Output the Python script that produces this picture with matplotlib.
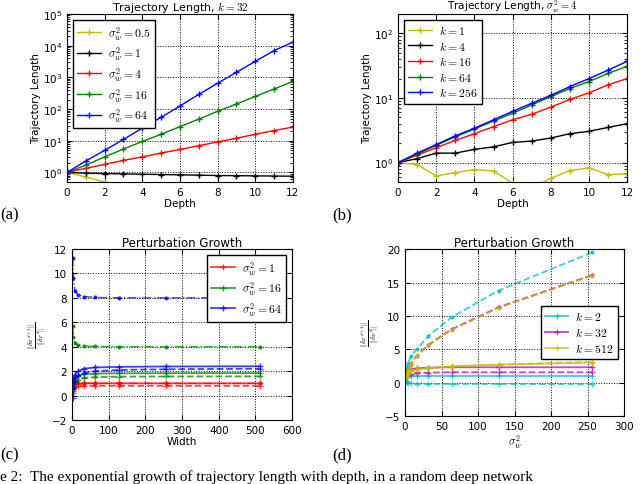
import numpy as np
import matplotlib
matplotlib.use('Agg')
import matplotlib.pyplot as plt

plt.rcParams['mathtext.fontset'] = 'cm'
plt.rcParams['font.family'] = 'DejaVu Sans'
plt.rcParams['xtick.direction'] = 'in'
plt.rcParams['ytick.direction'] = 'in'
plt.rcParams['xtick.top'] = True
plt.rcParams['ytick.right'] = True
plt.rcParams['xtick.labelsize'] = 7.5
plt.rcParams['ytick.labelsize'] = 7.5

# (a) trajectory length, k = 32
depth = list(range(13))
sig_labels_a = [r'$\sigma_w^2=0.5$', r'$\sigma_w^2=1$', r'$\sigma_w^2=4$', r'$\sigma_w^2=16$', r'$\sigma_w^2=64$']
traj_a = [
    [1, 0.72, 0.5, 0.36, 0.26, 0.19, 0.14, 0.1, 0.07, 0.05, 0.04, 0.03, 0.02],
    [1, 0.95, 0.92, 0.9, 0.88, 0.86, 0.84, 0.82, 0.8, 0.79, 0.78, 0.77, 0.76],
    [1, 1.35, 1.8, 2.4, 3.1, 4.1, 5.3, 7.0, 9.2, 12, 16, 21, 27],
    [1, 1.7, 3.1, 5.5, 9.5, 16, 28, 48, 85, 145, 250, 430, 750],
    [1, 2.3, 5, 11, 25, 55, 125, 290, 650, 1450, 3200, 7000, 13000],
]
colors_a = ['y', 'k', 'r', 'g', 'b']

# (b) trajectory length, sigma_w^2 = 4
k_labels_b = [r'$k=1$', r'$k=4$', r'$k=16$', r'$k=64$', r'$k=256$']
traj_b = [
    [1, 0.93, 0.62, 0.7, 0.78, 0.74, 0.48, 0.4, 0.57, 0.75, 0.83, 0.65, 0.67],
    [1, 1.15, 1.4, 1.4, 1.6, 1.75, 2.05, 2.15, 2.4, 2.8, 3.05, 3.5, 4.0],
    [1, 1.3, 1.7, 2.2, 2.8, 3.6, 4.6, 5.6, 7.2, 9.5, 12, 16, 20],
    [1, 1.35, 1.85, 2.5, 3.3, 4.4, 5.8, 7.8, 10.5, 14, 18, 24, 31],
    [1, 1.4, 1.9, 2.6, 3.4, 4.6, 6.2, 8.3, 11, 15, 20, 27, 37],
]

# (c) perturbation growth vs width
width = [2, 4, 8, 16, 32, 64, 128, 256, 512]
sig_labels_c = [r'$\sigma_w^2=1$', r'$\sigma_w^2=16$', r'$\sigma_w^2=64$']
colors_c = ['r', 'g', 'b']
solid_c = [
    [0.7, 0.85, 0.93, 0.97, 0.99, 1.0, 1.0, 1.0, 1.0],
    [0.8, 1.2, 1.5, 1.65, 1.75, 1.8, 1.82, 1.83, 1.84],
    [0.6, 1.2, 1.7, 2.0, 2.2, 2.3, 2.35, 2.38, 2.4],
]
dashed_c = [
    [0.4, 0.6, 0.7, 0.75, 0.78, 0.8, 0.8, 0.8, 0.8],
    [0.2, 0.7, 1.1, 1.3, 1.45, 1.5, 1.55, 1.56, 1.57],
    [-0.2, 0.5, 1.2, 1.6, 1.85, 2.0, 2.1, 2.15, 2.2],
]
dashdot_c = [
    [1.4, 1.2, 1.1, 1.05, 1.02, 1.0, 1.0, 1.0, 1.0],
    [5.7, 4.8, 4.3, 4.1, 4.05, 4.02, 4.0, 4.0, 4.0],
    [11.3, 9.6, 8.6, 8.25, 8.1, 8.03, 8.0, 8.0, 8.0],
]

# (d) perturbation growth vs sigma_w^2
sigma2 = [1, 2, 4, 8, 16, 32, 64, 128, 256]
k_labels_d = [r'$k=2$', r'$k=32$', r'$k=512$']
colors_d = ['c', 'm', 'y']
solid_d = [
    [1.3, 1.2, 1.1, 1.05, 1.0, 1.0, 1.0, 1.0, 1.0],
    [1.2, 1.5, 1.8, 2.0, 2.15, 2.25, 2.3, 2.3, 2.3],
    [1.0, 1.3, 1.6, 1.8, 2.0, 2.2, 2.45, 2.7, 3.0],
]
upper_d = [
    [1.8, 2.3, 3.0, 4.0, 5.0, 7.0, 9.8, 13.8, 19.5],
    [1.0, 1.4, 2.0, 2.8, 4.0, 5.7, 8.0, 11.3, 16.1],
    [1.0, 1.4, 2.0, 2.8, 4.0, 5.6, 7.9, 11.2, 16.0],
]
lower_d = [
    [0.3, 0.1, 0.0, -0.1, -0.15, -0.2, -0.2, -0.2, -0.25],
    [0.8, 1.0, 1.2, 1.35, 1.45, 1.5, 1.55, 1.55, 1.55],
    [0.9, 1.2, 1.5, 1.75, 1.95, 2.15, 2.4, 2.7, 3.1],
]

fig = plt.figure(figsize=(6.4, 4.85), dpi=100)
ax_a = fig.add_axes([0.1047, 0.6227, 0.353, 0.3464])
ax_b = fig.add_axes([0.622, 0.6227, 0.358, 0.3464])
ax_c = fig.add_axes([0.1125, 0.132, 0.344, 0.3526])
ax_d = fig.add_axes([0.633, 0.1402, 0.342, 0.344])

leg_kw = dict(fontsize=8.5, fancybox=False, edgecolor='k', handlelength=2,
              borderpad=0.35, labelspacing=0.22, handletextpad=0.6, framealpha=1)

def grid_it(ax):
    ax.grid(True, color='k', linestyle=':', linewidth=0.7)
    ax.set_axisbelow(True)

for vals, lab, c in zip(traj_a, sig_labels_a, colors_a):
    ax_a.plot(depth, vals, color=c, marker='+', markersize=5, lw=1, label=lab)
ax_a.set_yscale('log')
ax_a.set_xlim(0, 12)
ax_a.set_ylim(0.5, 1e5)
ax_a.set_title(r'Trajectory Length, $k=32$', fontsize=8, pad=1)
ax_a.set_xlabel('Depth', fontsize=7.5, labelpad=1)
ax_a.set_ylabel('Trajectory Length', fontsize=7.5, labelpad=1)
ax_a.legend(loc='upper left', **leg_kw)
grid_it(ax_a)

for vals, lab, c in zip(traj_b, k_labels_b, colors_a):
    ax_b.plot(depth, vals, color=c, marker='+', markersize=5, lw=1, label=lab)
ax_b.set_yscale('log')
ax_b.set_xlim(0, 12)
ax_b.set_ylim(0.5, 200)
ax_b.set_title(r'Trajectory Length, $\sigma_w^2=4$', fontsize=7.6, pad=0)
ax_b.set_xlabel('Depth', fontsize=7.5, labelpad=1)
ax_b.set_ylabel('Trajectory Length', fontsize=7.5, labelpad=1)
ax_b.legend(loc='upper left', **leg_kw)
grid_it(ax_b)

for i, c in enumerate(colors_c):
    ax_c.plot(width, solid_c[i], color=c, marker='+', markersize=5, lw=1.3, alpha=0.75, label=sig_labels_c[i])
    ax_c.plot(width, dashed_c[i], color=c, marker='+', markersize=5, lw=1.3, ls='--', alpha=0.75)
    ax_c.plot(width, dashdot_c[i], color=c, marker='.', markersize=4, lw=1.0, ls='-.', alpha=0.75)
ax_c.set_xlim(0, 600)
ax_c.set_ylim(-2, 12)
ax_c.set_title('Perturbation Growth', fontsize=8.5, pad=2)
ax_c.set_xlabel('Width', fontsize=7.5, labelpad=1)
ax_c.set_ylabel(r'$\frac{||\delta x^{d+1}||}{||\delta x^d||}$', fontsize=7, labelpad=2)
ax_c.legend(loc='upper right', **leg_kw)
grid_it(ax_c)

for i, c in enumerate(colors_d):
    ax_d.plot(sigma2, solid_d[i], color=c, marker='+', markersize=5, lw=1.3, alpha=0.75, label=k_labels_d[i])
    ax_d.plot(sigma2, upper_d[i], color=c, marker='.', markersize=4, lw=1.3, ls='--', alpha=0.75)
    ax_d.plot(sigma2, lower_d[i], color=c, marker='+', markersize=5, lw=1.3, ls='--', alpha=0.75)
ax_d.set_xlim(0, 300)
ax_d.set_ylim(-5, 20)
ax_d.set_title('Perturbation Growth', fontsize=8.5, pad=2)
ax_d.set_xlabel(r'$\sigma_w^2$', fontsize=8, labelpad=1)
ax_d.set_ylabel(r'$\frac{||\delta x^{d+1}||}{||\delta x^d||}$', fontsize=7, labelpad=2)
ax_d.legend(loc='center right', **leg_kw)
grid_it(ax_d)

serif = 'Liberation Serif'
fig.text(0.0, 1 - 215 / 485, '(a)', fontsize=12, family=serif, va='center')
fig.text(332 / 640, 1 - 215 / 485, '(b)', fontsize=12, family=serif, va='center')
fig.text(0.0, 1 - 455 / 485, '(c)', fontsize=12, family=serif, va='center')
fig.text(332 / 640, 1 - 455 / 485, '(d)', fontsize=12, family=serif, va='center')
fig.text(0.0, 0.002,
         'e 2:  The exponential growth of trajectory length with depth, in a random deep network',
         fontsize=11, family=serif, va='bottom')

fig.savefig('out.png', dpi=100)
